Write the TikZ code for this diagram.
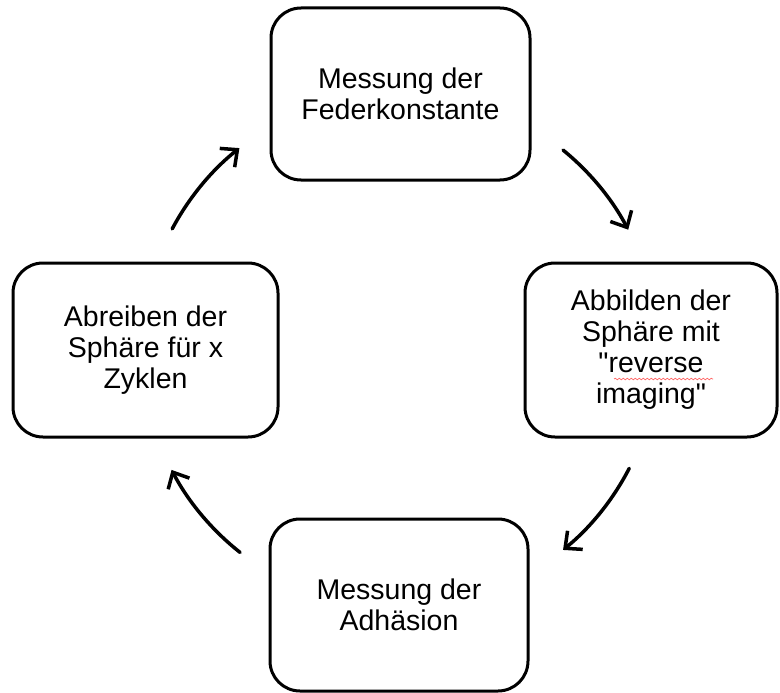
\documentclass[tikz,border=0pt]{standalone}
\usepackage{fontspec}
\setmainfont{Liberation Sans}[Ligatures=TeXOff]
\usetikzlibrary{arrows.meta,decorations.pathmorphing}
\begin{document}
\begin{tikzpicture}[x=1pt,y=-1pt,
  stepbox/.style={draw, line width=3pt, rounded corners=30pt, align=center,
    font=\fontsize{28.5}{31}\selectfont, inner sep=0pt},
  cyclearrow/.style={line width=3.5pt, line cap=round,
    -{Straight Barb[length=13pt,width=24pt]}},
  spellmark/.style={draw=red!60!white, line width=0.7pt, decorate,
    decoration={snake, amplitude=0.8pt, segment length=4pt}}]
\useasboundingbox (0,0) rectangle (780,693);

% the four steps of the cycle
\node[stepbox, minimum width=259pt, minimum height=172pt] (feder) at (400.5,94)
  {Messung der\\Federkonstante};
\node[stepbox, minimum width=252pt, minimum height=174pt] (abbild) at (651,350)
  {Abbilden der\\Sphäre mit\\"reverse\\imaging"};
\node[stepbox, minimum width=258pt, minimum height=172pt] (adh) at (399,605)
  {Messung der\\Adhäsion};
\node[stepbox, minimum width=265pt, minimum height=174pt] (abreib) at (145.5,350)
  {Abreiben der\\Sphäre für x\\Zyklen};

% wavy underline below "reverse"
\draw[spellmark] ([shift={(-37,29)}]abbild.center) -- ([shift={(62,29)}]abbild.center);

% circular arrows around the common centre
\coordinate (c) at (400,350);
\draw[cyclearrow] ([shift={(-50.8:258)}]c) arc[start angle=-50.8, end angle=-27.8, radius=258];
\draw[cyclearrow] ([shift={(27.3:258)}]c) arc[start angle=27.3, end angle=50.8, radius=258];
\draw[cyclearrow] ([shift={(128.3:258)}]c) arc[start angle=128.3, end angle=152.3, radius=258];
\draw[cyclearrow] ([shift={(208:258)}]c) arc[start angle=208, end angle=231.5, radius=258];
\end{tikzpicture}
\end{document}
